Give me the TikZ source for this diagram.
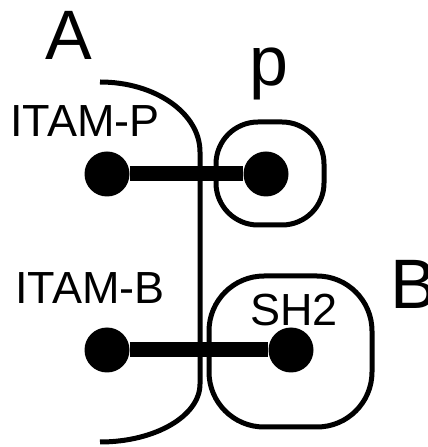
\documentclass[tikz,border=0pt]{standalone}
\usepackage{fontspec}
\setmainfont{Liberation Sans}
\begin{document}
\begin{tikzpicture}[x=1pt,y=1pt,
  dot/.style={circle, fill, inner sep=0pt, minimum size=45pt},
  big/.style={font=\fontsize{70}{70}\selectfont, inner sep=0pt},
  small/.style={font=\fontsize{45}{45}\selectfont, inner sep=0pt}]
\useasboundingbox (0,0) rectangle (428,447);

\node[big, anchor=base] (A) at (69,387) {A};
\node[big, anchor=base] (p) at (269,361) {p};
\node[big, anchor=base west] (B) at (390,138) {B};
\node[small, anchor=base] (itamp) at (85,310) {ITAM-P};
\node[small, anchor=base] (itamb) at (90,143) {ITAM-B};
\node[small, anchor=base] (sh2) at (294,121) {SH2};

\node[dot] (1) at (107,273) {};
\node[dot] (2) at (266,273) {};
\node[dot] (3) at (107,97) {};
\node[dot] (4) at (291,97) {};

\path[draw,line width=5pt] (100,365) .. controls (155,365) and (200,334) .. (200,295)
  -- (200,63) .. controls (200,31) and (155,5) .. (100,5);
\path[draw,line width=5pt,rounded corners=42pt] (216,222) rectangle (324,325);
\path[draw,line width=5pt,rounded corners=55pt] (209,171) rectangle (372,20);

\path[draw,line width=15pt] (1) -- (2);
\path[draw,line width=15pt] (3) -- (4);
\end{tikzpicture}
\end{document}
